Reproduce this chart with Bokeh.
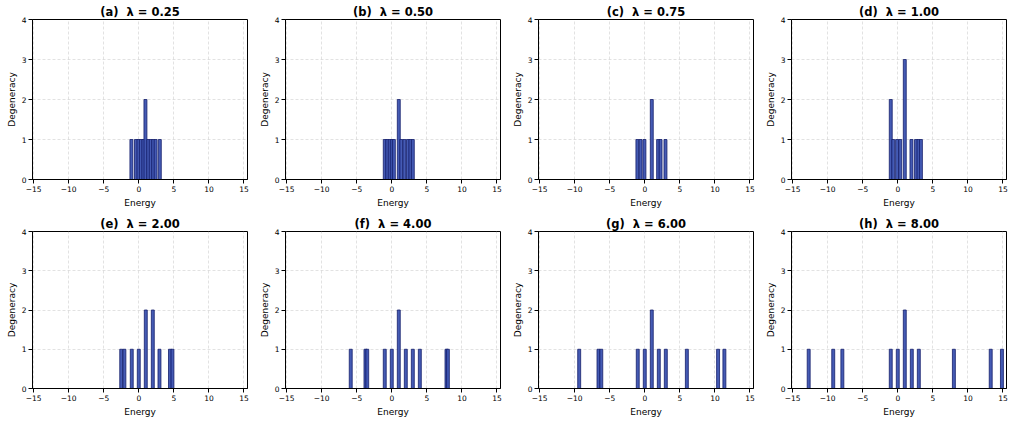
from bokeh.plotting import figure
from bokeh.layouts import gridplot
from bokeh.embed import file_html
from bokeh.resources import INLINE
from bokeh.models import FixedTicker

# ---- data ----
lambdas = [0.25, 0.50, 0.75, 1.00, 2.00, 4.00, 6.00, 8.00]
panel_letters = ["a", "b", "c", "d", "e", "f", "g", "h"]

energies_a = [-1.05, -0.4, -0.05, 0.3, 0.65, 0.95, 1.35, 1.7, 2.05, 2.4, 3.0]
counts_a   = [1, 1, 1, 1, 1, 2, 1, 1, 1, 1, 1]
energies_b = [-1.0, -0.65, -0.3, 0.0, 0.3, 1.0, 1.35, 1.8, 2.3, 2.65, 3.0]
counts_b   = [1, 1, 1, 1, 1, 2, 1, 1, 1, 1, 1]
energies_c = [-1.05, -0.6, -0.05, 1.0, 1.9, 2.25, 2.95]
counts_c   = [1, 1, 1, 2, 1, 1, 1]
energies_d = [-1.0, -0.65, -0.1, 0.35, 1.0, 1.95, 2.6, 2.95, 3.3]
counts_d   = [2, 1, 1, 1, 3, 1, 1, 1, 1]
energies_e = [-2.5, -2.05, -1.0, 0.0, 1.0, 2.0, 2.95, 4.45, 4.8]
counts_e   = [1, 1, 1, 1, 2, 2, 1, 1, 1]
energies_f = [-5.85, -3.75, -3.5, -1.0, 0.0, 1.0, 2.0, 3.0, 4.0, 7.8, 8.0]
counts_f   = [1, 1, 1, 1, 1, 2, 1, 1, 1, 1, 1]
energies_g = [-9.35, -6.6, -6.2, -1.0, 0.0, 1.0, 2.0, 3.0, 6.0, 10.45, 11.35]
counts_g   = [1, 1, 1, 1, 1, 2, 1, 1, 1, 1, 1]
energies_h = [-12.7, -9.2, -7.9, -1.0, 0.0, 1.0, 2.0, 3.0, 8.0, 13.25, 14.85]
counts_h   = [1, 1, 1, 1, 1, 2, 1, 1, 1, 1, 1]

all_energies = [energies_a, energies_b, energies_c, energies_d,
                energies_e, energies_f, energies_g, energies_h]
all_counts = [counts_a, counts_b, counts_c, counts_d,
              counts_e, counts_f, counts_g, counts_h]

x_ticks = [-15, -10, -5, 0, 5, 10, 15]
y_ticks = [0, 1, 2, 3, 4]
x_tick_labels = {-15: "\u221215", -10: "\u221210", -5: "\u22125"}

FONT = "DejaVu Sans"
BAR_FILL = "#3B52B0"
BAR_EDGE = "#141E6B"

figs = []
for i in range(8):
    row, col = divmod(i, 4)
    last_col = (col == 3)
    width = 249 if last_col else 253
    height = 212 if row == 0 else 207
    p = figure(width=width, height=height,
               x_range=(-15.15, 15.5), y_range=(0, 4),
               output_backend="svg", toolbar_location=None,
               min_border_left=32, min_border_right=2 if last_col else 6,
               min_border_top=19, min_border_bottom=33 if row == 0 else 29,
               title="(%s)\u00a0 \u03bb = %.2f" % (panel_letters[i], lambdas[i]))
    p.title.align = "center"
    p.title.text_font = FONT
    p.title.text_font_size = "11.5px"
    p.title.text_font_style = "bold"
    p.title.text_color = "black"
    p.title.standoff = 2
    p.title.offset = 0

    p.vbar(x=all_energies[i], top=all_counts[i], width=0.42, bottom=0,
           fill_color=BAR_FILL, line_color=BAR_EDGE, line_width=0.8,
           fill_alpha=0.95)

    p.xaxis.ticker = FixedTicker(ticks=x_ticks)
    p.yaxis.ticker = FixedTicker(ticks=y_ticks)
    p.xaxis.major_label_overrides = x_tick_labels
    p.xaxis.axis_label = "Energy"
    p.yaxis.axis_label = "Degeneracy"
    for ax in (p.xaxis, p.yaxis):
        ax.axis_label_text_font = FONT
        ax.axis_label_text_font_size = "9px"
        ax.axis_label_text_font_style = "normal"
        ax.axis_label_text_color = "black"
        ax.major_label_text_font = FONT
        ax.major_label_text_font_size = "7.5px"
        ax.major_label_text_color = "black"
        ax.minor_tick_line_color = None
        ax.major_tick_out = 4
        ax.major_tick_in = 0
        ax.major_tick_line_color = "black"
        ax.axis_line_color = "black"
        ax.major_label_standoff = 2
    p.xaxis.axis_label_standoff = 3
    p.yaxis.axis_label_standoff = 2

    p.outline_line_color = "black"
    p.outline_line_alpha = 1.0
    p.outline_line_width = 1
    p.grid.grid_line_color = "#cfcfcf"
    p.grid.grid_line_dash = "3 2"
    p.grid.grid_line_alpha = 0.6
    p.background_fill_color = "white"
    p.border_fill_color = "white"
    figs.append(p)

grid = gridplot([figs[0:4], figs[4:8]], toolbar_location=None)
open("out.html", "w").write(file_html(grid, INLINE))
